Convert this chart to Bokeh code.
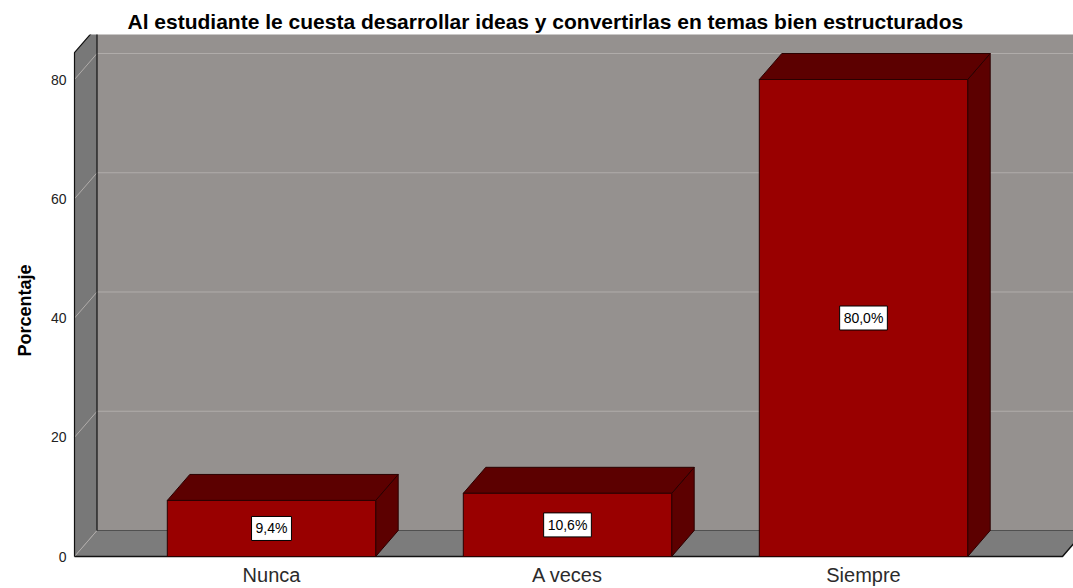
from bokeh.plotting import figure
from bokeh.models import Range1d, Label, FixedTicker, Title
from bokeh.embed import file_html
from bokeh.resources import INLINE

# ---- data ----
categories = ["Nunca", "A veces", "Siempre"]
values = [9.4, 10.6, 80.0]
value_labels = ["9,4%", "10,6%", "80,0%"]
y_ticks = [0, 20, 40, 60, 80]
title_text = "Al estudiante le cuesta desarrollar ideas y convertirlas en temas bien estructurados"
y_label = "Porcentaje"

# ---- layout / geometry constants (pixels -> data) ----
W, H = 1073, 588
B_LEFT, B_TOP, B_BOTTOM = 72, 34, 30
KY = 5.9625          # px per percent
KX = 296.0           # px per category
y_start = -2 / KY
y_end = y_start + (H - B_TOP - B_BOTTOM) / KY
x_start = (72 - 271) / KX
x_end = x_start + (W - B_LEFT) / KX

XL = (74 - 271) / KX      # front-left corner of the box
XR = (1062 - 271) / KX    # front-right corner of the floor
DX = 22.5 / KX            # depth offset (x)
DY = 26 / KY              # depth offset (y)
TOP = 84.5                # wall height
HALF = 0.352              # half bar width

BACK = "#95918f"
SIDE = "#787878"
FLOOR = "#7c7c7c"
GRID = "#b0acaa"
BAR_FRONT = "#990000"
BAR_DARK = "#5c0000"
BAR_EDGE = "#2a0000"
FONT = "Liberation Sans"

p = figure(width=W, height=H, output_backend="svg", toolbar_location=None,
           x_range=Range1d(x_start, x_end), y_range=Range1d(y_start, y_end),
           min_border_left=B_LEFT, min_border_right=0,
           min_border_top=B_TOP, min_border_bottom=B_BOTTOM)
p.title.text = title_text
p.title.align = "left"
p.title.offset = 55
p.title.standoff = 4
p.title.text_font = FONT
p.title.text_font_size = "21px"
p.title.text_font_style = "bold"
p.title.text_color = "black"
p.outline_line_color = None
p.background_fill_color = "white"
p.border_fill_color = "white"
p.xgrid.visible = False
p.ygrid.visible = False

# back wall
p.patch([XL + DX, XR + DX + 1, XR + DX + 1, XL + DX],
        [DY, DY, TOP + DY, TOP + DY], fill_color=BACK, line_color=None)
# side wall
p.patch([XL, XL, XL + DX, XL + DX], [0, TOP, TOP + DY, DY],
        fill_color=SIDE, line_color=None)
# floor
p.patch([XL, XR, XR + DX, XL + DX], [0, 0, DY, DY],
        fill_color=FLOOR, line_color=None)

# grid lines (back wall + side wall)
for t in y_ticks:
    if t > 0:
        p.line([XL + DX, XR + DX + 1], [t + DY, t + DY], line_color=GRID, line_width=1)
    p.line([XL, XL + DX], [t, t + DY], line_color=GRID, line_width=1)

# box edges
p.line([XL + DX, XR + DX + 1], [DY, DY], line_color="#505050", line_width=1)
p.line([XL + DX, XL + DX], [DY, TOP + DY], line_color="#111111", line_width=1.2)
p.line([XL, XL, XL + DX], [0, TOP, TOP + DY], line_color="#111111", line_width=1.2)
p.line([XL, XR, XR + DX], [0, 0, DY], line_color="#111111", line_width=1.5)

# bars
xs = list(range(len(categories)))
side_xs = [[x + HALF, x + HALF, x + HALF + DX, x + HALF + DX] for x in xs]
side_ys = [[0, v, v + DY, DY] for v in values]
top_xs = [[x - HALF, x + HALF, x + HALF + DX, x - HALF + DX] for x in xs]
top_ys = [[v, v, v + DY, v + DY] for v in values]
p.patches(side_xs, side_ys, fill_color=BAR_DARK, line_color=BAR_EDGE, line_width=1)
p.patches(top_xs, top_ys, fill_color=BAR_DARK, line_color=BAR_EDGE, line_width=1)
p.vbar(x=xs, top=values, bottom=0, width=2 * HALF, fill_color=BAR_FRONT,
       line_color=BAR_EDGE, line_width=1)

# value labels
for x, v, s in zip(xs, values, value_labels):
    p.add_layout(Label(x=x, y=v / 2, text=s, text_align="center", text_baseline="middle",
                       text_font=FONT, text_font_size="14px",
                       text_color="black", background_fill_color="white",
                       border_line_color="black", border_line_width=1, padding=4))

# axes
p.yaxis.ticker = FixedTicker(ticks=y_ticks)
p.yaxis.axis_line_color = None
p.yaxis.major_tick_line_color = None
p.yaxis.minor_tick_line_color = None
p.yaxis.major_tick_out = 0
p.yaxis.major_tick_in = 0
p.yaxis.minor_tick_out = 0
p.yaxis.minor_tick_in = 0
p.yaxis.major_label_standoff = 6
p.yaxis.major_label_text_font = FONT
p.yaxis.major_label_text_font_size = "14px"
p.yaxis.major_label_text_color = "#222222"

p.xaxis.ticker = FixedTicker(ticks=xs)
p.xaxis.major_label_overrides = {i: c for i, c in zip(xs, categories)}
p.xaxis.axis_line_color = None
p.xaxis.major_tick_line_color = None
p.xaxis.minor_tick_line_color = None
p.xaxis.major_tick_out = 0
p.xaxis.major_tick_in = 0
p.xaxis.minor_tick_out = 0
p.xaxis.minor_tick_in = 0
p.xaxis.major_label_standoff = 5
p.xaxis.major_label_text_font = FONT
p.xaxis.major_label_text_font_size = "20px"
p.xaxis.major_label_text_color = "#2b2b2b"

# y-axis title (as a side title so it can be shifted like the reference)
p.add_layout(Title(text=y_label, align="left", offset=202, standoff=22,
                   vertical_align="top",
                   text_font=FONT, text_font_size="18px", text_font_style="bold",
                   text_color="black"), "left")

open("out.html", "w").write(file_html(p, INLINE))
